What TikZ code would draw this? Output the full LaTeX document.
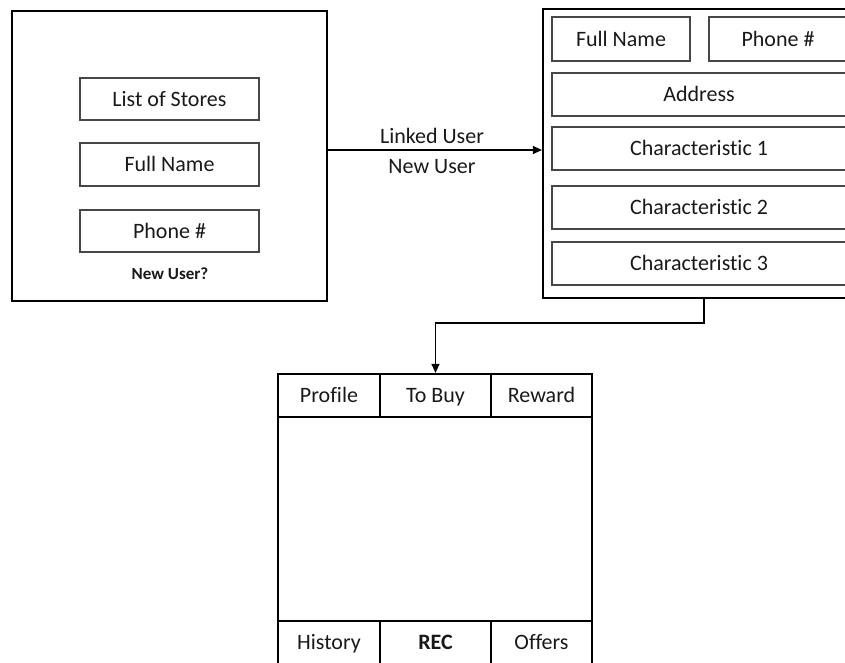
\documentclass[tikz,border=0pt]{standalone}
\usepackage{fontspec}
\setmainfont{Carlito}[Ligatures=NoCommon]
\usetikzlibrary{arrows.meta}
\begin{document}
\begin{tikzpicture}[x=1pt,y=-1pt,
  label text/.style={text=black!90,font=\fontsize{22}{26}\selectfont,
    text height=16pt,text depth=2pt},
  frame/.style={draw=black,line width=2.2pt,inner sep=0pt,anchor=center},
  field/.style={label text,draw=black!72,line width=1.3pt,inner sep=0pt,anchor=center},
  tab/.style={label text,draw=black,line width=2.2pt,inner sep=0pt,anchor=center},
  caption/.style={label text,inner sep=0pt},
  conn/.style={draw=black,line width=1.2pt,-{Triangle[length=9pt,width=8pt]}}
]
\useasboundingbox (0,0) rectangle (845,662);

% login screen
\node[frame,minimum width=315pt,minimum height=290pt] (login) at (169.5,156) {};
\node[field,minimum width=179pt,minimum height=42pt] (stores) at (169.5,99) {List of Stores};
\node[field,minimum width=179pt,minimum height=43pt] (lname) at (169.5,164.5) {Full Name};
\node[field,minimum width=179pt,minimum height=42pt] (lphone) at (169.5,231) {Phone \#};
\node[caption,font=\fontsize{17}{20}\selectfont\bfseries,text height=13pt,text depth=2pt] (newq) at (170,274) {New User?};

% registration screen
\node[frame,minimum width=312pt,minimum height=289pt] (signup) at (699,153.5) {};
\node[field,minimum width=138pt,minimum height=44pt] (rname) at (621,39) {Full Name};
\node[field,minimum width=138pt,minimum height=44pt] (rphone) at (778,39) {Phone \#};
\node[field,minimum width=294pt,minimum height=43pt] (addr) at (699,94.5) {Address};
\node[field,minimum width=294pt,minimum height=43pt] (char1) at (699,148.5) {Characteristic 1};
\node[field,minimum width=294pt,minimum height=43pt] (char2) at (699,207.5) {Characteristic 2};
\node[field,minimum width=294pt,minimum height=43pt] (char3) at (699,263.5) {Characteristic 3};

% main screen
\node[frame,minimum width=314pt,minimum height=300pt] (home) at (435,524) {};
\node[tab,minimum width=102pt,minimum height=43pt] (profile) at (329,395.5) {Profile};
\node[tab,minimum width=111pt,minimum height=43pt] (tobuy) at (435.5,395.5) {To Buy};
\node[tab,minimum width=101pt,minimum height=43pt] (reward) at (541.5,395.5) {Reward};
\node[tab,minimum width=102pt,minimum height=43pt] (history) at (329,642.5) {History};
\node[tab,minimum width=111pt,minimum height=43pt,font=\fontsize{22}{26}\selectfont\bfseries] (rec) at (435.5,642.5) {REC};
\node[tab,minimum width=101pt,minimum height=43pt] (offers) at (541.5,642.5) {Offers};

% connectors
\coordinate (level) at (0,150);
\draw[conn] (login.east |- level) -- (signup.west |- level);
\node[caption] (linked) at (432,136) {Linked User};
\node[caption] (newu) at (432,166) {New User};

\coordinate (drop) at (704,0);
\coordinate (elbow) at (435.5,323);
\draw[conn] (signup.south -| drop) |- (elbow) -- (tobuy.north);
\end{tikzpicture}
\end{document}
